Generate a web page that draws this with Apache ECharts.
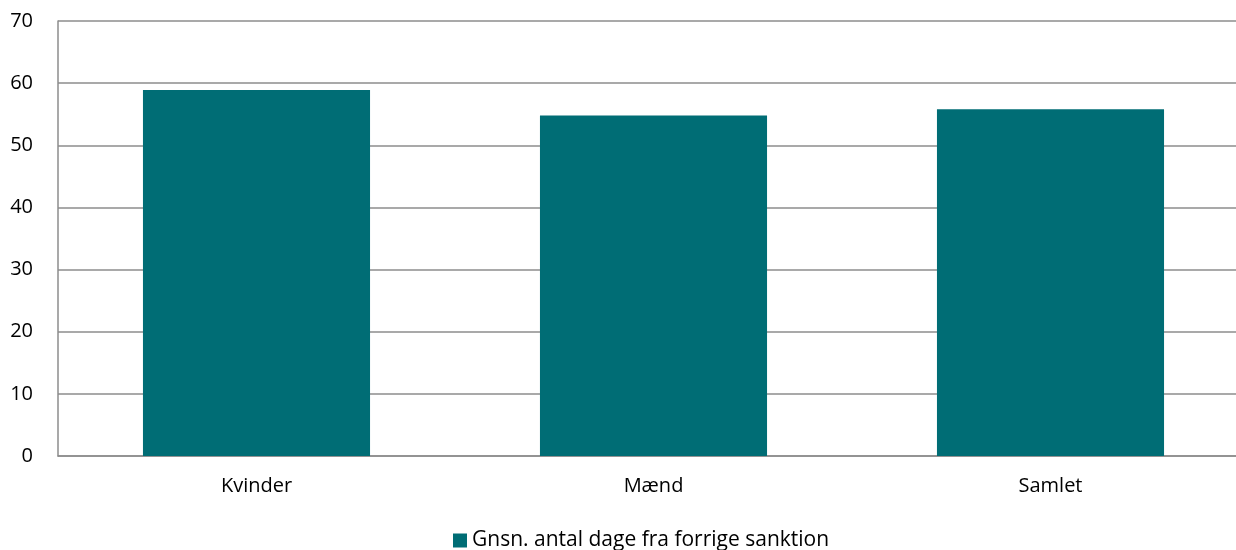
<!DOCTYPE html>
<html><head><meta charset="utf-8">
<script src="https://cdn.jsdelivr.net/npm/echarts@6/dist/echarts.min.js"></script>
<style>html,body{margin:0;padding:0;background:#fff}#c{width:1236px;height:550px}</style>
</head><body><div id="c"></div>
<script>
const categories = ['Kvinder', 'Mænd', 'Samlet'];
const seriesName = 'Gnsn. antal dage fra forrige sanktion';
const values = [58.9, 54.8, 55.8];
const yTicks = {min: 0, max: 70, interval: 10};

const chart = echarts.init(document.getElementById('c'), null, {renderer: 'canvas'});
const font = '"Open Sans", "Liberation Sans", sans-serif';
chart.setOption({
  animation: false,
  textStyle: {fontFamily: font},
  grid: {left: 58, width: 1191, top: 21, bottom: 94, containLabel: false, outerBoundsMode: 'none'},
  legend: {
    bottom: -6, left: 448,
    itemWidth: 14, itemHeight: 14, itemGap: 10,
    icon: 'rect',
    textStyle: {fontSize: 21, color: '#000', fontFamily: font},
    data: [seriesName]
  },
  xAxis: {
    type: 'category', data: categories,
    axisLine: {show: true, lineStyle: {color: '#8c8c8c', width: 1.5}},
    axisTick: {show: false},
    axisLabel: {color: '#000', fontSize: 20, margin: 20, fontFamily: font}
  },
  yAxis: {
    type: 'value', min: yTicks.min, max: yTicks.max, interval: yTicks.interval,
    axisLine: {show: true, lineStyle: {color: '#8c8c8c', width: 1.5}},
    axisTick: {show: false},
    splitLine: {show: true, lineStyle: {color: '#8c8c8c', width: 1.5}},
    axisLabel: {color: '#000', fontSize: 20, margin: 25, fontFamily: font}
  },
  series: [{
    name: seriesName, type: 'bar', data: values,
    barWidth: '57.2%',
    itemStyle: {color: '#006d75'}
  }]
});
</script></body></html>
